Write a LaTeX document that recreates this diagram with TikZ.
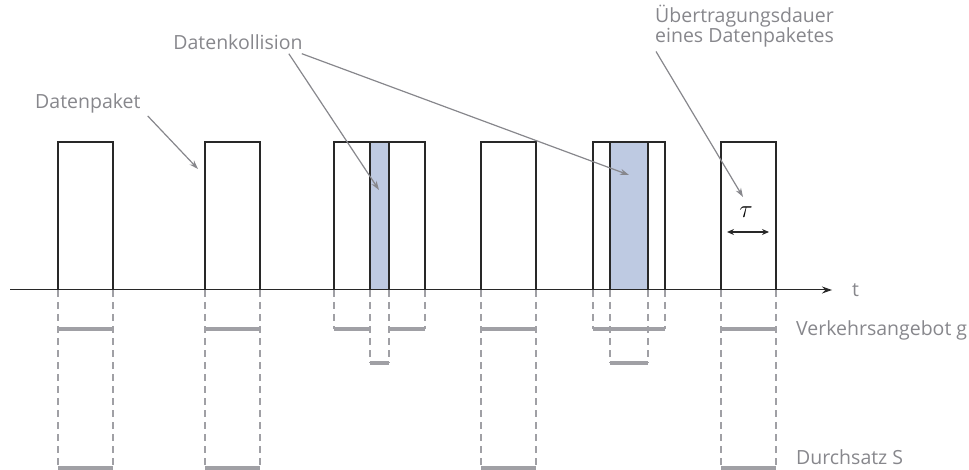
\documentclass[tikz,border=0pt]{standalone}
\usepackage{fontspec}
\setmainfont{Open Sans}
\usetikzlibrary{arrows.meta}
\definecolor{notegray}{RGB}{135,135,140}
\definecolor{guidegray}{RGB}{160,160,165}
\definecolor{collfill}{RGB}{190,202,226}
\definecolor{boxline}{RGB}{40,40,40}
\tikzstyle{notetext}=[text=notegray,font=\fontsize{19.5}{20}\selectfont,inner sep=2pt]
\tikzstyle{pointer}=[draw=notegray,line width=1.2pt,-{Stealth[length=9pt,width=6pt]}]
\tikzstyle{packet}=[draw=boxline,line width=1.3pt]
\tikzstyle{guide}=[draw=guidegray,line width=1.2pt,dash pattern=on 7pt off 5pt]
\tikzstyle{rate}=[draw=guidegray,line width=3.5pt]
\tikzstyle{overlap}=[fill=collfill]

\begin{document}
\begin{tikzpicture}[x=1pt,y=-1pt]
\useasboundingbox (0,0) rectangle (969,470);
% overlapping parts of colliding packets
\fill[overlap] (370,142) rectangle (389,290);
\fill[overlap] (610,142) rectangle (648,290);
% packets on the channel
\foreach \x in {58,205,334,370,481,593,610,721}
    \draw[packet] (\x,290) |- ++(55,-148) -- ++(0,148);
% time axis
\coordinate (t0) at (10,290);
\coordinate (t1) at (832,290);
\draw[boxline,line width=1pt,-{Stealth[length=10pt,width=7pt]}] (t0) -- (t1);
% successful packets: offered load and throughput
\foreach \x in {58,205,481,721}{
    \draw[guide] (\x,290) -- (\x,468);
    \draw[guide] (\x+55,290) -- (\x+55,468);
    \draw[rate] (\x,329) -- (\x+55,329);
    \draw[rate] (\x,468) -- (\x+55,468);
}
% colliding packets: offered load only
\foreach \x/\h in {334/329, 425/329, 370/363, 389/363, 593/329, 665/329, 610/363, 648/363}
    \draw[guide] (\x,290) -- (\x,\h);
\foreach \a/\b/\h in {334/370/329, 389/425/329, 370/389/363, 593/665/329, 610/648/363}
    \draw[rate] (\a,\h) -- (\b,\h);
% texts
\node[notetext,anchor=west] (paket) at (33,103) {Datenpaket};
\node[notetext] (kollision) at (238,42) {Datenkollision};
\node[notetext,anchor=north west,align=left] (dauer) at (653,3) {Übertragungsdauer\\eines Datenpaketes};
\node[notetext,anchor=west] (zeit) at (850,290) {t};
\node[notetext,anchor=west] (angebot) at (794,330) {Verkehrsangebot g};
\node[notetext,anchor=west] (durchsatz) at (794,457) {Durchsatz S};
\node[font=\fontsize{24}{24}\selectfont,inner sep=0pt] (tau) at (746,212) {$\tau$};
% pointers
\coordinate (paketziel) at (198,169);
\coordinate (kollziel1) at (379,190);
\coordinate (kollziel2) at (629,175);
\coordinate (dauerziel) at (743,197);
\draw[pointer] ([shift={(5,1)}]paket.south east) -- (paketziel);
\draw[pointer] ([shift={(-16,2)}]kollision.south east) -- (kollziel1);
\draw[pointer] ([shift={(-3,2)}]kollision.south east) -- (kollziel2);
\draw[pointer] ([shift={(3,2)}]dauer.south west) -- (dauerziel);
% packet duration
\coordinate (taul) at (727,232);
\coordinate (taur) at (769,232);
\draw[boxline,line width=1.2pt,{Stealth[length=7pt,width=6pt]}-{Stealth[length=7pt,width=6pt]}] (taul) -- (taur);
\end{tikzpicture}
\end{document}
